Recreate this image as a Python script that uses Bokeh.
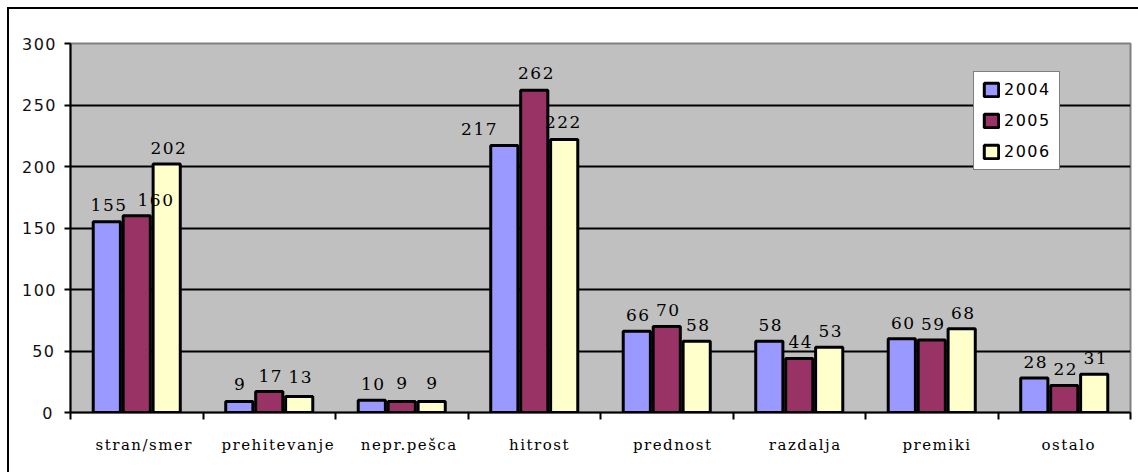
from bokeh.core.properties import value
from bokeh.embed import file_html
from bokeh.models import (CategoricalAxis, ColumnDataSource, FactorRange,
                          FixedTicker, LinearAxis)
from bokeh.plotting import figure
from bokeh.resources import INLINE
from bokeh.transform import dodge

# Data
categories = ["stran/smer", "prehitevanje", "nepr.pešca", "hitrost",
              "prednost", "razdalja", "premiki", "ostalo"]
years = ["2004", "2005", "2006"]
values_2004 = [155, 9, 10, 217, 66, 58, 60, 28]
values_2005 = [160, 17, 9, 262, 70, 44, 59, 22]
values_2006 = [202, 13, 9, 222, 58, 53, 68, 31]
y_ticks = [0, 50, 100, 150, 200, 250, 300]

# Styling
colors = ["#9999FF", "#993366", "#FFFFCC"]
bar_offsets = [-0.226, 0.0, 0.226]
bar_width = 0.205
# per-label nudges (pixels) so value labels do not collide
label_dx = {
    "2004": [0, 0, 0, -27, 0, 0, 0, 0],
    "2005": [17, 0, 0, 0, 0, 0, 0, 0],
    "2006": [0, 0, 0, -3, 0, 0, 0, 0],
}
label_dy = {
    "2004": [-17, -17, -16, -17, -16, -16, -16, -16],
    "2005": [-16, -16, -18, -17, -16, -16, -16, -16],
    "2006": [-16, -20, -18, -17, -16, -16, -16, -16],
}

series = {"2004": values_2004, "2005": values_2005, "2006": values_2006}

src = ColumnDataSource(dict(cat=categories, **{f"v{y}": series[y] for y in years},
                            **{f"dx{y}": label_dx[y] for y in years},
                            **{f"dy{y}": label_dy[y] for y in years},
                            **{f"t{y}": [str(v) for v in series[y]] for y in years}))

# the chart sits 9px in from the page's top-left corner, framed by an outline
p = figure(width=1129, height=463,
           x_range=FactorRange(factors=categories, range_padding=0),
           y_range=(y_ticks[0], y_ticks[-1]),
           output_backend="svg", toolbar_location=None,
           x_axis_location=None,
           min_border_left=61, min_border_right=8,
           min_border_top=34, min_border_bottom=60)
p.margin = (9, 0, 0, 9)
p.styles = {"letter-spacing": "1.5px", "outline": "2px solid black"}

p.background_fill_color = "#C0C0C0"
p.border_fill_color = "white"
p.outline_line_color = "#808080"
p.outline_line_width = 2

# horizontal grid
p.xgrid.visible = False
p.ygrid.ticker = FixedTicker(ticks=y_ticks[1:-1])
p.ygrid.grid_line_color = "black"
p.ygrid.grid_line_width = 2

# y axis
yax = p.yaxis[0]
yax.ticker = FixedTicker(ticks=y_ticks)
yax.axis_line_color = "black"
yax.axis_line_width = 2
yax.major_tick_out = 6
yax.major_tick_in = 0
yax.major_tick_line_width = 2
yax.minor_tick_line_color = None
yax.major_label_standoff = 12
yax.major_label_text_font = "DejaVu Sans"
yax.major_label_text_font_size = "16px"
yax.major_label_text_color = "#111111"

# x axis: ticks between categories, names centred underneath
tick_axis = LinearAxis(ticker=FixedTicker(ticks=list(range(len(categories) + 1))),
                       axis_line_color="black", axis_line_width=2,
                       major_tick_out=7, major_tick_in=0, major_tick_line_width=2,
                       minor_tick_line_color=None,
                       major_label_text_color=None, major_label_standoff=0)
p.add_layout(tick_axis, "below")

name_axis = CategoricalAxis(axis_line_color=None, major_tick_line_color=None,
                            minor_tick_line_color=None,
                            major_label_standoff=10,
                            major_label_text_font="DejaVu Serif",
                            major_label_text_font_size="15px",
                            major_label_text_color="black")
p.add_layout(name_axis, "below")

# bars first, then value labels on top of every bar
for i, y in enumerate(years):
    p.vbar(x=dodge("cat", bar_offsets[i], range=p.x_range), top=f"v{y}",
           width=bar_width, source=src,
           fill_color=colors[i], line_color="black", line_width=3,
           legend_label=y)

for i, y in enumerate(years):
    p.text(x=dodge("cat", bar_offsets[i], range=p.x_range), y=f"v{y}",
           text=f"t{y}", source=src,
           x_offset=f"dx{y}", y_offset=f"dy{y}",
           text_align="center", text_baseline="alphabetic",
           text_font=value("DejaVu Serif"), text_font_size="17px",
           text_color="black")

# legend
lg = p.legend[0]
lg.location = (903, 242)
lg.border_line_color = "black"
lg.border_line_width = 1.5
lg.background_fill_color = "white"
lg.background_fill_alpha = 1
lg.padding = 8
lg.spacing = 12
lg.margin = 0
lg.glyph_height = 17
lg.glyph_width = 18
lg.label_height = 17
lg.label_standoff = 4
lg.label_text_font = "DejaVu Sans"
lg.label_text_font_size = "16px"
lg.label_text_color = "black"

open("out.html", "w").write(file_html(p, INLINE))
